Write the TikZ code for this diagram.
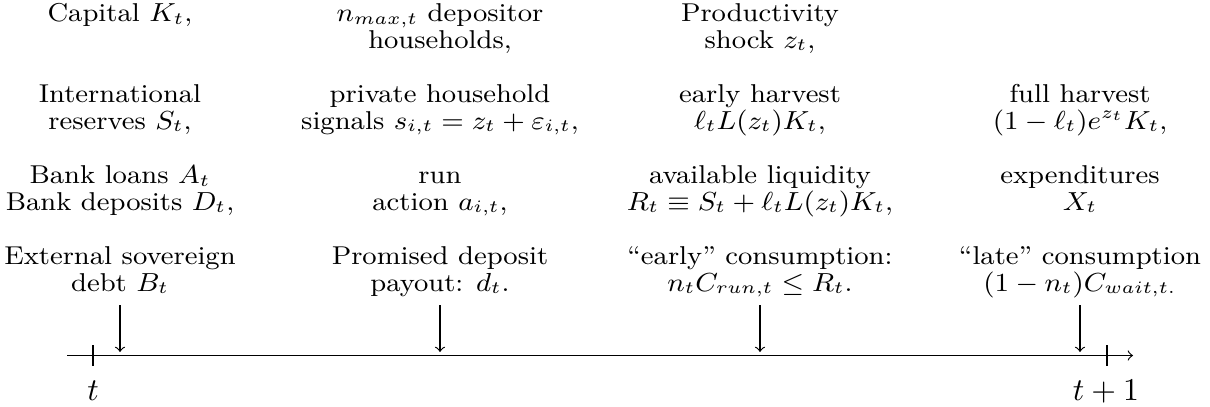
\documentclass[tikz,border=0pt]{standalone}
\usepackage{amsmath,amssymb,graphicx}
\setlength{\lineskiplimit}{-30pt}
\newcommand{\firststrut}{\rule{0pt}{7.5pt}}
\newcommand{\sx}[1]{\scalebox{1.08}[1]{#1}}
\begin{document}
\begin{tikzpicture}[x=0.345pt,y=-0.345pt,
  item/.style={anchor=north,align=center,inner sep=0pt,font=\fontsize{8.9}{9.3}\selectfont},
  axislabel/.style={anchor=base,inner sep=0pt,font=\fontsize{10.5}{12}\selectfont},
  timearrow/.style={->,line width=0.4pt},
  tickmark/.style={line width=0.4pt}]
\useasboundingbox (0,0) rectangle (1210,406);
% column 1
\node[item] (c1r1) at (120,-1.2) {\firststrut\sx{Capital $K_t$,}};
\node[item] (c1r2) at (120,79.8) {\firststrut\sx{International}\\ \sx{reserves $S_t$,}};
\node[item] (c1r3) at (120,160.8) {\firststrut\sx{Bank loans $A_t$}\\ \sx{Bank deposits $D_t$,}};
\node[item] (c1r4) at (120,241.8) {\firststrut\sx{External sovereign}\\ \sx{debt $B_t$}};
% column 2
\node[item] (c2r1) at (440,-1.2) {\firststrut\sx{$n_{max,t}$ depositor}\\ \sx{households,}};
\node[item] (c2r2) at (440,79.8) {\firststrut\sx{private household}\\ \sx{signals $s_{i,t} = z_t + \varepsilon_{i,t}$,}};
\node[item] (c2r3) at (440,160.8) {\firststrut\sx{run}\\ \sx{action $a_{i,t}$,}};
\node[item] (c2r4) at (440,241.8) {\firststrut\sx{Promised deposit}\\ \sx{payout: $d_t$.}};
% column 3
\node[item] (c3r1) at (760,-1.2) {\firststrut\sx{Productivity}\\ \sx{shock $z_t$,}};
\node[item] (c3r2) at (760,79.8) {\firststrut\sx{early harvest}\\ \sx{$\ell_t L(z_t) K_t$,}};
\node[item] (c3r3) at (760,160.8) {\firststrut\sx{available liquidity}\\ \sx{$R_t \equiv S_t + \ell_t L(z_t) K_t$,}};
\node[item] (c3r4) at (760,241.8) {\firststrut\sx{``early'' consumption:}\\ \sx{$n_t C_{run,t} \leq R_t$.}};
% column 4
\node[item] (c4r2) at (1080,79.8) {\firststrut\sx{full harvest}\\ \sx{$(1-\ell_t) e^{z_t} K_t$,}};
\node[item] (c4r3) at (1080,160.8) {\firststrut\sx{expenditures}\\ \sx{$X_t$}};
\node[item] (c4r4) at (1080,241.8) {\firststrut\sx{``late'' consumption}\\ \sx{$(1-n_t) C_{wait,t.}$}};
% time axis
\coordinate (axs) at (67,355.5);
\coordinate (axe) at (1133,355.5);
\draw[timearrow] (axs) -- (axe);
\coordinate (t0top) at (93,345);
\coordinate (t0bot) at (93,366);
\coordinate (t1top) at (1107,345);
\coordinate (t1bot) at (1107,366);
\draw[tickmark] (t0top) -- (t0bot);
\draw[tickmark] (t1top) -- (t1bot);
\node[axislabel] (lt0) at (93,400) {$t$};
\node[axislabel] (lt1) at (1106,400) {$t+1$};
% event arrows
\foreach \i/\x in {1/120,2/440,3/760,4/1080}{
  \coordinate (ea\i s) at (\x,305);
  \coordinate (ea\i e) at (\x,352);
  \draw[timearrow] (ea\i s) -- (ea\i e);
}
\end{tikzpicture}
\end{document}
